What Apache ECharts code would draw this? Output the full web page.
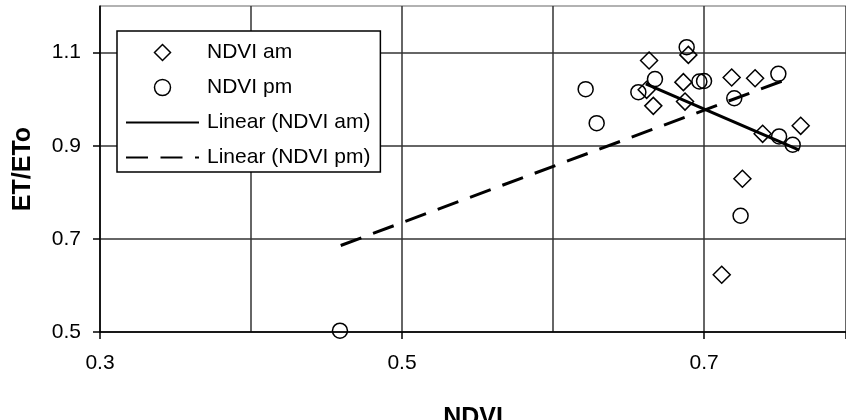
<!DOCTYPE html>
<html>
<head>
<meta charset="utf-8">
<script src="https://cdn.jsdelivr.net/npm/echarts@6/dist/echarts.min.js"></script>
<style>
html,body{margin:0;padding:0;background:#fff;}
#chart{width:846px;height:420px;}
</style>
</head>
<body>
<div id="chart"></div>
<script>
// NDVI am observations
var amX = [0.6636, 0.6896, 0.6863, 0.6620, 0.6664, 0.6874, 0.7183, 0.7338, 0.7388, 0.7640, 0.7254, 0.7117];
var amY = [1.083, 1.095, 1.0365, 1.020, 0.9856, 0.9948, 1.0464, 1.045, 0.9255, 0.9427, 0.829, 0.623];
// NDVI pm observations
var pmX = [0.6885, 0.6675, 0.6565, 0.6969, 0.7000, 0.7200, 0.7492, 0.7497, 0.7587, 0.7242, 0.6289, 0.6216, 0.4589];
var pmY = [1.1116, 1.043, 1.015, 1.0378, 1.039, 1.002, 1.0543, 0.920, 0.902, 0.7496, 0.9485, 1.0215, 0.5028];
// trend line end points
var trendAmX = [0.6614, 0.7631];
var trendAmY = [1.0328, 0.8906];
var trendPmX = [0.4594, 0.7587];
var trendPmY = [0.6858, 1.0472];
// axis ticks
var xTicks = [0.3, 0.5, 0.7];
var yTicks = [0.5, 0.7, 0.9, 1.1];
var seriesNames = ['NDVI am', 'NDVI pm', 'Linear (NDVI am)', 'Linear (NDVI pm)'];

function zip(a, b) { return a.map(function (v, i) { return [v, b[i]]; }); }
function isTick(list, v) { return list.some(function (t) { return Math.abs(t - v) < 1e-6; }); }

var FONT = "'Liberation Sans', Arial, sans-serif";
var chart = echarts.init(document.getElementById('chart'), null, {renderer: 'canvas'});
chart.setOption({
  animation: false,
  backgroundColor: '#fff',
  textStyle: {fontFamily: FONT},
  grid: {left: 100, top: 6, width: 746, height: 326, containLabel: false, outerBoundsMode: 'none'},
  xAxis: [{
    type: 'value', min: 0.3, max: 0.794, interval: 0.1,
    name: 'NDVI', nameLocation: 'middle', nameGap: 74,
    nameTextStyle: {fontFamily: FONT, fontSize: 25, fontWeight: 'bold', color: '#000'},
    axisLine: {show: true, onZero: false, lineStyle: {color: '#000', width: 1.5}},
    axisTick: {show: false},
    axisLabel: {fontFamily: FONT, fontSize: 21, color: '#000', margin: 21, showMaxLabel: false,
      formatter: function (v) { return isTick(xTicks, v) ? v.toFixed(1) : ''; }},
    splitLine: {show: true, lineStyle: {color: '#333', width: 1.5}}
  }, {
    type: 'value', min: 0.3, max: 0.794, interval: 0.2, position: 'bottom',
    axisLine: {show: false, onZero: false},
    axisTick: {show: true, length: 7, lineStyle: {color: '#000', width: 1.5}},
    axisLabel: {show: false},
    splitLine: {show: false}
  }],
  yAxis: {
    type: 'value', min: 0.5, max: 1.2, interval: 0.2,
    name: 'ET/ETo', nameLocation: 'middle', nameGap: 64, nameRotate: 90,
    nameTextStyle: {fontFamily: FONT, fontSize: 25, fontWeight: 'bold', color: '#000'},
    axisLine: {show: true, onZero: false, lineStyle: {color: '#000', width: 1.5}},
    axisTick: {show: true, length: 7, lineStyle: {color: '#000', width: 1.5}},
    axisLabel: {fontFamily: FONT, fontSize: 21, color: '#000', margin: 19, showMaxLabel: false,
      formatter: function (v) { return isTick(yTicks, v) ? v.toFixed(1) : ''; }},
    splitLine: {show: true, lineStyle: {color: ['#333', '#333', '#333', '#333', '#999'], width: 1.5}}
  },
  legend: {
    show: true, orient: 'vertical', left: 117, top: 31,
    padding: [11, 10, 4, 8], itemGap: 14, itemWidth: 73, itemHeight: 16,
    symbolKeepAspect: true,
    backgroundColor: '#fff', borderColor: '#000', borderWidth: 1.5, borderRadius: 0,
    textStyle: {fontFamily: FONT, fontSize: 21, color: '#000', lineHeight: 20, padding: [0, 0, 0, 3]},
    selectedMode: false,
    data: [
      {name: seriesNames[0], icon: 'path://M0,-1L1,0L0,1L-1,0Z', itemStyle: {color: 'transparent', borderColor: '#000', borderWidth: 1.5}},
      {name: seriesNames[1], icon: 'circle', itemStyle: {color: 'transparent', borderColor: '#000', borderWidth: 1.5}},
      {name: seriesNames[2], itemStyle: {color: 'transparent', borderColor: 'transparent', borderWidth: 0}},
      {name: seriesNames[3], itemStyle: {color: 'transparent', borderColor: 'transparent', borderWidth: 0}}
    ]
  },
  series: [
    {
      name: seriesNames[0], type: 'scatter', data: zip(amX, amY), xAxisIndex: 0,
      symbol: 'diamond', symbolSize: 17,
      itemStyle: {color: 'transparent', borderColor: '#000', borderWidth: 1.5, opacity: 1}
    },
    {
      name: seriesNames[1], type: 'scatter', data: zip(pmX, pmY), xAxisIndex: 0,
      symbol: 'circle', symbolSize: 15,
      itemStyle: {color: 'transparent', borderColor: '#000', borderWidth: 1.5, opacity: 1}
    },
    {
      name: seriesNames[2], type: 'line', data: zip(trendAmX, trendAmY), xAxisIndex: 0,
      symbol: 'none', itemStyle: {color: '#000'},
      lineStyle: {color: '#000', width: 3, type: 'solid'}
    },
    {
      name: seriesNames[3], type: 'line', data: zip(trendPmX, trendPmY), xAxisIndex: 0,
      symbol: 'none', itemStyle: {color: '#000'},
      lineStyle: {color: '#000', width: 3, type: [22, 12.5]}
    }
  ]
});
</script>
</body>
</html>
